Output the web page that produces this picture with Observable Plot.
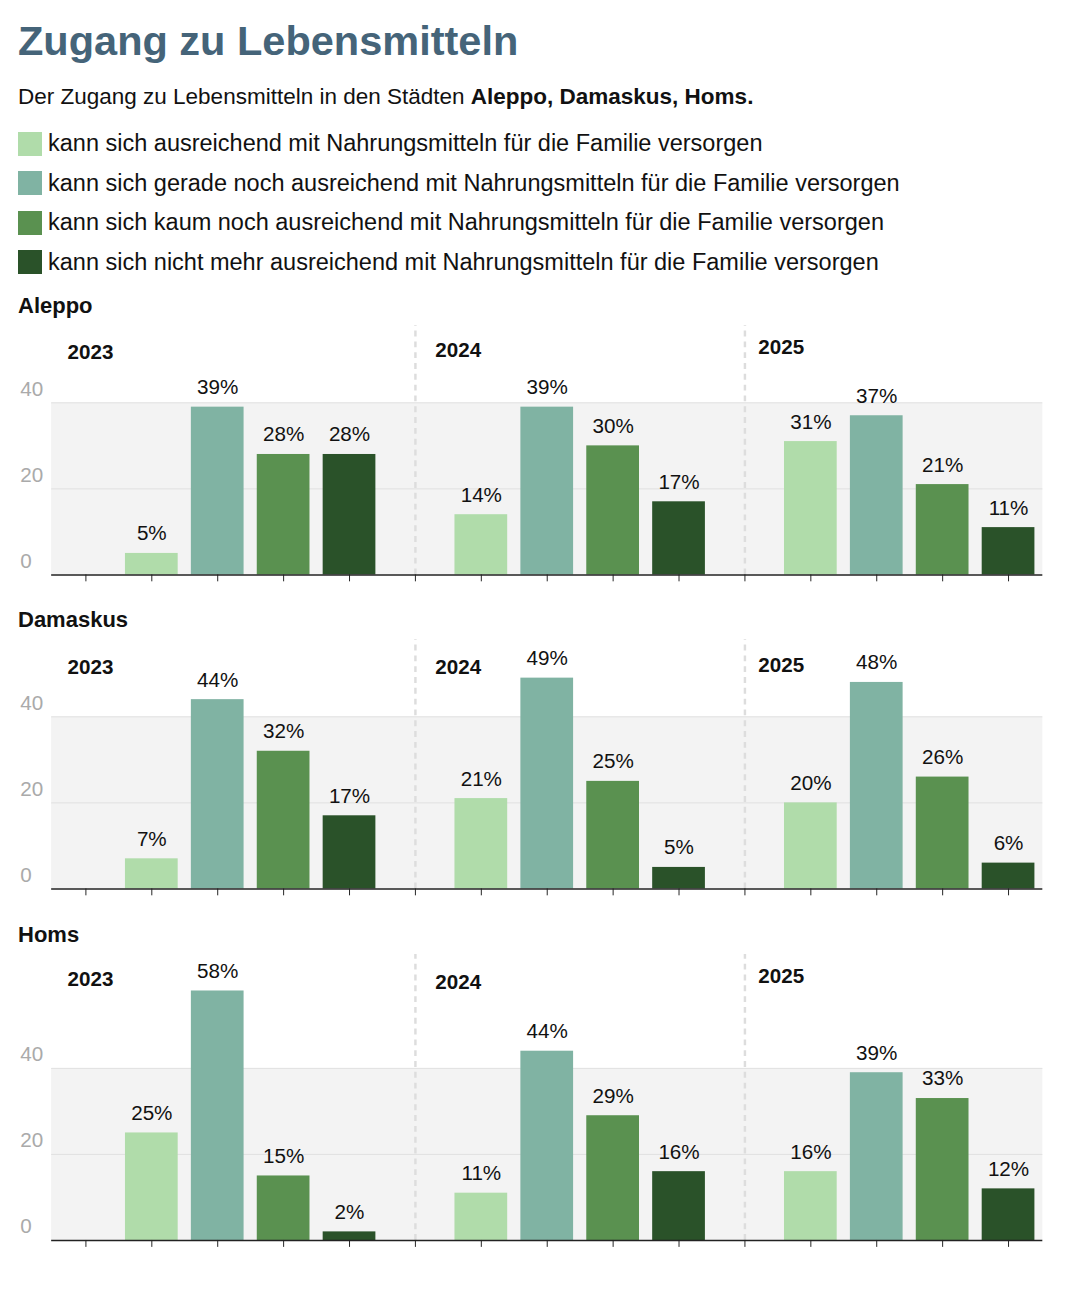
<!DOCTYPE html>
<html><head><meta charset="utf-8">
<script src="https://cdn.jsdelivr.net/npm/d3@7"></script>
<script src="https://cdn.jsdelivr.net/npm/@observablehq/plot@0.6"></script>
<style>
body{margin:0;font-family:"Liberation Sans",Arial,sans-serif;color:#111;width:1080px;}
#wrap{padding:0 0 0 18px;}
h1{margin:0;padding-top:18px;font-size:41.5px;color:#456479;line-height:46px;}
.sub{font-size:22.5px;margin:20px 0 14px 0;}
.leg{display:flex;align-items:center;font-size:23.5px;height:39.5px;}
.sw{width:24px;height:24px;margin-right:6px;}
.city{font-size:22px;font-weight:bold;margin:0;line-height:28px;}
svg{display:block;margin-left:-18px;}
</style></head><body><div id="wrap">
<h1>Zugang zu Lebensmitteln</h1>
<div class="sub">Der Zugang zu Lebensmitteln in den Städten <b>Aleppo, Damaskus, Homs.</b></div>
<div id="legend"></div>
<div id="charts"></div>
</div>
<script>
const categories = ["kann sich ausreichend mit Nahrungsmitteln für die Familie versorgen","kann sich gerade noch ausreichend mit Nahrungsmitteln für die Familie versorgen","kann sich kaum noch ausreichend mit Nahrungsmitteln für die Familie versorgen","kann sich nicht mehr ausreichend mit Nahrungsmitteln für die Familie versorgen"];
const colors = ["#b0dcaa","#80b3a3","#5a9150","#2a5229"];
const years = ["2023","2024","2025"];
const cities = ["Aleppo","Damaskus","Homs"];
const aleppo = [[5,39,28,28],[14,39,30,17],[31,37,21,11]];
const damaskus = [[7,44,32,17],[21,49,25,5],[20,48,26,6]];
const homs = [[25,58,15,2],[11,44,29,16],[16,39,33,12]];
const cityValues = [aleppo, damaskus, homs];
const yTicks = [0,20,40];
const yearLabelY = [[51.7,52.3,52.8],[51.6,51.6,52],[60.8,60,61.3]];
const yMax = [58,58,66.5];
const yearLabelX = [0.07,5.65,10.55];

const leg = document.getElementById("legend");
categories.forEach((c,i)=>{
  const d=document.createElement("div");d.className="leg";
  d.innerHTML=`<div class="sw" style="background:${colors[i]}"></div><span>${c}</span>`;
  leg.appendChild(d);
});
const charts=document.getElementById("charts");
const PX=4.375;
cities.forEach((city,ci)=>{
  const h=document.createElement("div");h.className="city";h.textContent=city;
  h.style.marginTop = ci===0 ? "10px" : "22px";
  charts.appendChild(h);
  const rows=[];
  cityValues[ci].forEach((vals,yi)=>vals.forEach((v,k)=>rows.push({pos:yi*5+1+k,v,k})));
  const mt=5, mb=10;
  const plot=Plot.plot({
    width:1080, height:mt+mb+yMax[ci]*PX, marginTop:mt, marginBottom:mb, marginLeft:52, marginRight:20,
    x:{type:"linear",domain:[-0.52,14.52], axis:null},
    y:{type:"linear",domain:[0,yMax[ci]], axis:null},
    style:{fontFamily:"Liberation Sans, Arial, sans-serif"},
    marks:[
      Plot.rect([0],{x1:()=>-0.52,x2:()=>14.52,y1:()=>0,y2:()=>40,fill:"#f3f3f3"}),
      Plot.ruleY([20,40],{x1:-0.52,x2:14.52,stroke:"#e0e0e0"}),
      Plot.ruleX([5,10],{y1:0,y2:yMax[ci],stroke:"#ddd",strokeWidth:2.5,strokeDasharray:"6,5"}),
      Plot.text(yTicks,{x:-0.52,y:d=>d,text:d=>String(d),dx:-32,dy:-14,textAnchor:"start",fill:"#aaa",fontSize:21}),
      Plot.rect(rows,{x1:d=>d.pos-0.4,x2:d=>d.pos+0.4,y1:()=>0,y2:"v",fill:d=>colors[d.k]}),
      Plot.text(rows,{x:"pos",y:"v",text:d=>d.v+"%",dy:-20,fontSize:21,fill:"#111"}),
      Plot.text(years,{x:(d,i)=>yearLabelX[i],y:(d,i)=>yearLabelY[ci][i],text:d=>d,fontSize:21,fontWeight:"bold",fill:"#111"}),
      Plot.ruleY([0],{x1:-0.52,x2:14.52,stroke:"#222",strokeWidth:1.5}),
      Plot.ruleX(d3.range(15),{x:d=>d,y1:0,y2:0,insetBottom:-7,stroke:"#222"}),
    ]
  });
  charts.appendChild(plot);
});
</script>
</body></html>
